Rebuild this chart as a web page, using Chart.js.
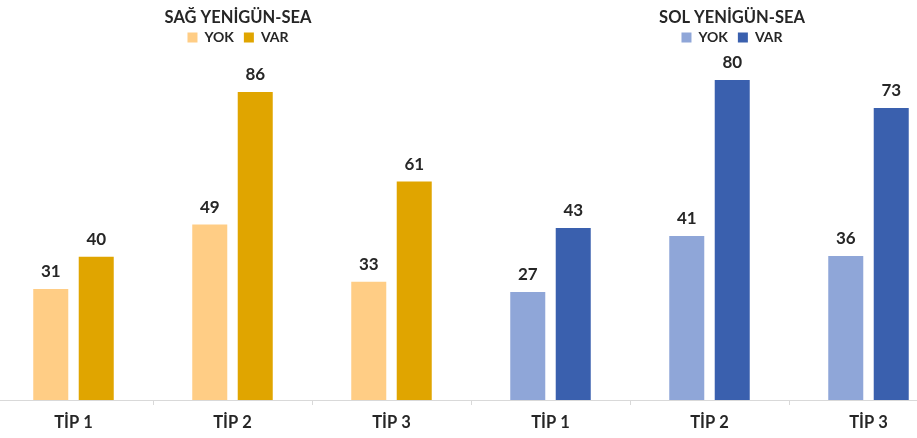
<!DOCTYPE html>
<html>
<head>
<meta charset="utf-8">
<script src="https://cdn.jsdelivr.net/npm/chart.js@4/dist/chart.umd.min.js"></script>
<style>
  html, body { margin: 0; padding: 0; background: #fff; overflow: hidden; width: 917px; height: 438px; }
  canvas { position: absolute; top: 0; }
  #sag { left: -6px; }
  #sol { left: 471px; }
</style>
</head>
<body>
<canvas id="sag" width="488" height="438"></canvas>
<canvas id="sol" width="522" height="438"></canvas>
<script>
var categories = ["TİP 1", "TİP 2", "TİP 3"];
var sagYok = [31, 49, 33];
var sagVar = [40, 86, 61];
var solYok = [27, 41, 36];
var solVar = [43, 80, 73];

var font = "Lato";
var ink = "#262626";

// numbers above the bars
var valueLabels = {
  id: "valueLabels",
  afterDatasetsDraw: function(chart) {
    var ctx = chart.ctx;
    ctx.save();
    ctx.font = "bold 17px " + font;
    ctx.fillStyle = ink;
    ctx.textAlign = "center";
    ctx.textBaseline = "bottom";
    chart.data.datasets.forEach(function(ds, i) {
      chart.getDatasetMeta(i).data.forEach(function(bar, j) {
        ctx.fillText(ds.data[j], bar.x, bar.y - 9);
      });
    });
    ctx.restore();
  }
};

function makeChart(id, title, yok, vr, colYok, colVar, yMax, rightPad) {
  var ctx = document.getElementById(id).getContext("2d");
  return new Chart(ctx, {
    type: "bar",
    data: {
      labels: categories,
      datasets: [
        { label: "YOK", data: yok, backgroundColor: colYok },
        { label: "VAR", data: vr, backgroundColor: colVar }
      ]
    },
    options: {
      responsive: false,
      animation: false,
      categoryPercentage: 0.572,
      barPercentage: 0.77,
      layout: { padding: 0 },
      plugins: {
        title: {
          display: true,
          text: title,
          color: ink,
          font: { family: font, size: 16.5, weight: "bold", lineHeight: 1 },
          padding: { top: 9, bottom: -5 }
        },
        legend: {
          labels: {
            boxWidth: 10,
            boxHeight: 10,
            color: ink,
            font: { family: font, size: 14, weight: "bold" },
            padding: 10
          }
        },
        tooltip: { enabled: false }
      },
      scales: {
        x: {
          grid: { drawOnChartArea: false, drawTicks: true, tickLength: 5, color: "#d9d9d9" },
          border: { color: "#d9d9d9" },
          ticks: { color: ink, padding: 8, font: { family: font, size: 16.5, weight: "bold" } },
          afterFit: function(s) { s.height = 38; }
        },
        y: {
          position: "right",
          min: 0,
          max: yMax,
          ticks: { display: false },
          grid: { display: false },
          border: { display: false },
          afterFit: function(s) { s.width = rightPad; }
        }
      }
    },
    plugins: [valueLabels]
  });
}

makeChart("sag", "SAĞ YENİGÜN-SEA", sagYok, sagVar, "#ffcd85", "#e0a500", 96.5, 11);
makeChart("sol", "SOL YENİGÜN-SEA", solYok, solVar, "#8fa6d8", "#3a60ae", 86.4, 45);
</script>
</body>
</html>
